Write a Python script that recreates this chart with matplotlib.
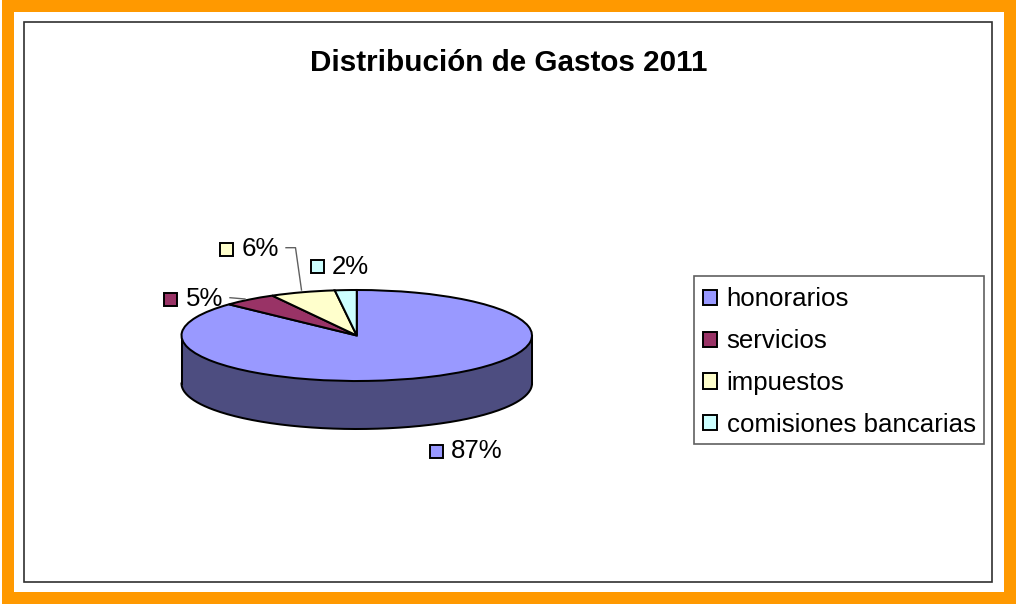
import numpy as np
import matplotlib
matplotlib.use("Agg")
import matplotlib.pyplot as plt
from matplotlib.patches import Rectangle

categories = ["honorarios", "servicios", "impuestos", "comisiones bancarias"]
values = [87, 5, 6, 2]
colors = ["#9999FF", "#993366", "#FFFFCC", "#CCFFFF"]
side_color = "#4D4D80"
title = "Distribución de Gastos 2011"

plt.rcParams["font.family"] = ["Liberation Sans", "DejaVu Sans"]
W, H = 1016, 608
fig = plt.figure(figsize=(W / 100, H / 100), dpi=100, facecolor="white")

# page-level overlay in pixel coordinates
ov = fig.add_axes([0, 0, 1, 1], zorder=0)
ov.set_xlim(0, W); ov.set_ylim(H, 0); ov.axis("off")
ov.add_patch(Rectangle((8, 6), 1002, 592, fc="none", ec="#FF9900", lw=12 * 0.72))
ov.add_patch(Rectangle((23.5, 22), 968.5, 560, fc="white", ec="#303030", lw=1.2))
ov.text(508.5, 63, title, ha="center", va="center", fontsize=21.3, fontweight="bold", color="black")

# pie axes
depth = 48 / 45.5
edge_lw = 1.45
def px_axes(x0, y0, x1, y1, **kw):
    return fig.add_axes([x0 / W, 1 - y1 / H, (x1 - x0) / W, (y1 - y0) / H], **kw)
ax = px_axes(181.5, 290, 532, 429, zorder=1)
wedges, _ = ax.pie(values, colors=colors, startangle=90, counterclock=False, radius=1,
                   wedgeprops=dict(edgecolor="black", linewidth=edge_lw, zorder=3))
ax.set_aspect("auto")
ax.set_xlim(-1, 1); ax.set_ylim(-1 - depth, 1)
ax.axis("off")
t = np.linspace(np.pi, 2 * np.pi, 200)
ax.fill_between(np.cos(t), np.sin(t), np.sin(t) - depth, color=side_color, edgecolor="none", zorder=1)
ax.plot(np.cos(t), np.sin(t) - depth, color="black", lw=edge_lw, zorder=2, clip_on=False)
ax.plot([-1, -1], [0, -depth], color="black", lw=edge_lw, zorder=2, clip_on=False)
ax.plot([1, 1], [0, -depth], color="black", lw=edge_lw, zorder=2, clip_on=False)
for w in wedges:
    w.set_clip_on(False)

# data labels: key-square left edge, key centre y, text left edge
label_pos = [(430, 451, 451), (163.5, 299, 186), (220, 249, 242), (310.5, 266, 332)]
ov2 = fig.add_axes([0, 0, 1, 1], zorder=2)
ov2.set_xlim(0, W); ov2.set_ylim(H, 0); ov2.axis("off")
for v, c, (kx, ky, tx) in zip(values, colors, label_pos):
    ov2.add_patch(Rectangle((kx, ky - 6.5), 13, 13, fc=c, ec="black", lw=1.4))
    ov2.text(tx, ky - 0.5 + (1 if v != 5 else 0), f"{v}%", fontsize=18.6, ha="left", va="center", color="black")
ov2.plot([286, 295.5, 301.5], [247.7, 247.7, 290], color="#606060", lw=1.0)
ov2.plot([230, 245], [297.7, 299], color="#606060", lw=1.0)

# legend: frame drawn separately so its size follows the reference
ov2.add_patch(Rectangle((693.5, 275.7), 290.5, 168.3, fc="white", ec="#606060", lw=1.2))
leg = ov2.legend(wedges, categories, loc="upper left",
                 bbox_to_anchor=(703.3 / W, 1 - 287.5 / H), bbox_transform=fig.transFigure,
                 fontsize=18.6, frameon=False,
                 handlelength=0.52, handleheight=0.52, handletextpad=0.38, labelspacing=0.69,
                 borderaxespad=0, borderpad=0)
for h in leg.get_patches():
    h.set_linewidth(1.4)

fig.savefig("out.png", dpi=100, facecolor="white")
